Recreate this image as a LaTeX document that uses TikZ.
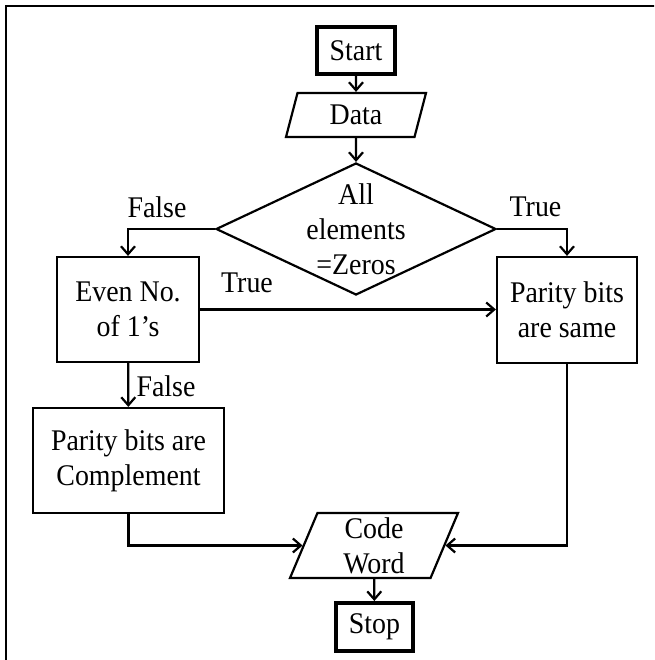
\documentclass[tikz,border=0pt]{standalone}
\usepackage{fontspec}
\setmainfont{Liberation Serif}[FakeStretch=0.93]
\usetikzlibrary{arrows.meta}
\usetikzlibrary{shapes.geometric}
\tikzset{
  box/.style={draw, line width=2.2pt, inner sep=0pt, align=center},
  termbox/.style={box, line width=4pt},
  iobox/.style={box, trapezium, trapezium stretches body},
  decision/.style={draw, line width=2.2pt, diamond, inner sep=0pt},
  lbl/.style={inner sep=0pt, align=center}
}

\begin{document}
\begin{tikzpicture}[x=1pt, y=-1pt,
% arrow heads for all connectors
arr/.style={line width=2.2pt, -{Straight Barb[length=8pt,width=14pt]}},
font=\fontsize{30}{35}\selectfont]
\useasboundingbox (0,0) rectangle (654,660);
\clip (0,0) rectangle (654,660);
% outer frame
\draw[line width=2pt] (5.5,6) rectangle (720,720);
% blocks
\node[termbox, minimum width=78pt, minimum height=47pt] (start) at (356,50.5) {Start};
\node[iobox, trapezium left angle=60, trapezium right angle=120,
  minimum width=140pt, minimum height=44pt] (data) at (356,115) {Data};
\node[decision, minimum width=280pt, minimum height=132pt] (zero) at (356,229) {};
\node[lbl] (zerotxt) at (zero.center) {All\\elements\\=Zeros};
\node[box, minimum width=142pt, minimum height=105pt] (even) at (128,309.5) {Even No.\\of 1’s};
\node[box, minimum width=140pt, minimum height=106pt] (same) at (567,310) {Parity bits\\are same};
\node[box, minimum width=191pt, minimum height=105pt] (compl) at (128.5,460.5) {Parity bits are\\Complement};
\node[iobox, trapezium left angle=64, trapezium right angle=116,
  minimum width=168pt, minimum height=65pt] (code) at (374,545.5) {Code\\Word};
\node[termbox, minimum width=77pt, minimum height=48pt] (stop) at (374.5,627) {Stop};
% connectors
\draw[arr] (start) -- (data);
\draw[arr] (data) -- (zero);
\draw[arr] (zero.west) -| (even.north);
\draw[arr] (zero.east) -| (same.north);
\draw[arr] (even.east) -- (even.east -| same.west);
\draw[arr] (even) -- (compl);
\draw[arr] (compl.south) |- (code.west);
\draw[arr] (same.south) |- (code.east);
\draw[arr] (code) -- (stop);
% branch labels
\node[lbl] (nozero) at (157,207.5) {False};
\node[lbl] (allzero) at (535.5,207) {True};
\node[lbl] (iseven) at (247,282.5) {True};
\node[lbl] (isodd) at (166,386.5) {False};
\end{tikzpicture}
\end{document}
